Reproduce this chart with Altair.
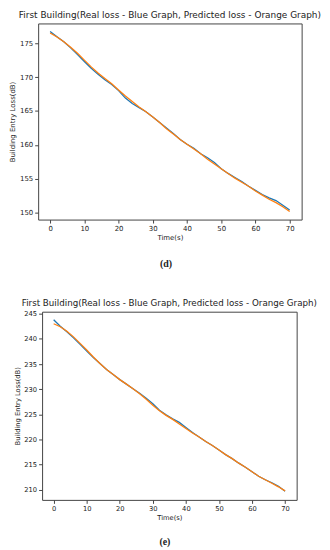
import altair as alt
import pandas as pd

time_s = list(range(0, 71, 2))

real_d = [176.7, 175.95, 175.2, 174.3, 173.3, 172.3, 171.3, 170.4, 169.6, 168.9,
          168.0, 166.9, 166.1, 165.5, 164.9, 164.1, 163.3, 162.5, 161.7, 160.8,
          160.1, 159.5, 158.7, 158.1, 157.4, 156.5, 155.8, 155.2, 154.6, 153.9,
          153.3, 152.7, 152.2, 151.8, 151.1, 150.4]
pred_d = [176.5, 175.9, 175.2, 174.4, 173.5, 172.5, 171.5, 170.6, 169.8, 169.0,
          168.1, 167.2, 166.4, 165.6, 164.9, 164.1, 163.3, 162.4, 161.6, 160.8,
          160.1, 159.4, 158.7, 157.9, 157.2, 156.5, 155.8, 155.1, 154.5, 153.9,
          153.2, 152.6, 152.0, 151.5, 150.9, 150.2]

real_e = [243.8, 242.5, 241.4, 240.2, 238.9, 237.6, 236.3, 235.1, 233.9, 232.9,
          231.9, 231.0, 230.1, 229.2, 228.2, 227.1, 225.8, 224.9, 224.1, 223.4,
          222.4, 221.4, 220.5, 219.6, 218.8, 217.9, 217.0, 216.2, 215.3, 214.5,
          213.6, 212.7, 212.0, 211.4, 210.7, 209.7]
pred_e = [243.0, 242.4, 241.5, 240.4, 239.1, 237.8, 236.4, 235.1, 233.9, 232.9,
          231.9, 231.0, 230.1, 229.1, 228.0, 226.8, 225.7, 224.8, 224.0, 223.1,
          222.2, 221.3, 220.5, 219.6, 218.8, 217.9, 217.0, 216.2, 215.3, 214.5,
          213.6, 212.7, 212.0, 211.3, 210.6, 209.8]

x_ticks = [0, 10, 20, 30, 40, 50, 60, 70]
y_ticks_d = [150, 155, 160, 165, 170, 175]
y_ticks_e = [210, 215, 220, 225, 230, 235, 240, 245]

title_text = "First Building(Real loss - Blue Graph, Predicted loss - Orange Graph)"
BLUE = "#1f77b4"
ORANGE = "#ff7f0e"


def panel(real, pred, ydom, yticks, w, h, fs, caption, cap_x, cap_y, ytp):
    df = pd.DataFrame({"t": time_s, "real": real, "pred": pred})
    x = alt.X("t:Q", scale=alt.Scale(domain=[-3.5, 73.5], nice=False, zero=False),
              axis=alt.Axis(values=x_ticks, title="Time(s)", labelFontSize=fs,
                            titleFontSize=fs, labelPadding=2, titlePadding=2))
    def y(field):
        return alt.Y(f"{field}:Q", scale=alt.Scale(domain=ydom, nice=False, zero=False),
                     axis=alt.Axis(values=yticks, title="Building Entry Loss(dB)",
                                   labelFontSize=fs, titleFontSize=fs,
                                   labelPadding=2, titlePadding=ytp))
    base = alt.Chart(df)
    blue = base.mark_line(color=BLUE, strokeWidth=1.3).encode(x=x, y=y("real"))
    orange = base.mark_line(color=ORANGE, strokeWidth=1.3).encode(x=x, y=y("pred"))
    cap = alt.Chart(pd.DataFrame({"c": [caption]})).mark_text(
        font="Liberation Serif", fontWeight="bold", fontSize=10, color="#222",
        baseline="middle", align="center"
    ).encode(text="c:N", x=alt.value(cap_x), y=alt.value(cap_y))
    return alt.layer(blue, orange, cap).properties(
        width=w, height=h,
        title=alt.TitleParams(title_text, fontSize=fs + 2, fontWeight="normal",
                              font="DejaVu Sans", color="#222", offset=3),
    )


top = panel(real_d, pred_d, [149.0, 177.9], y_ticks_d, 266, 198, 7, "(d)", 129, 243, 4)
bottom = panel(real_e, pred_e, [208.0, 245.4], y_ticks_e, 257, 190, 6.8, "(e)", 124, 233, 3.5)

chart = alt.vconcat(top, bottom, spacing=28, center=True).properties(
    padding={"left": 0, "top": 0, "right": 0, "bottom": 0}
).configure(font="DejaVu Sans").configure_view(
    stroke="#444", strokeWidth=1
).configure_axis(
    domain=False, grid=False, tickSize=3.5, tickColor="#444", labelColor="#222",
    titleColor="#222", titleFontWeight="normal", labelFont="DejaVu Sans", titleFont="DejaVu Sans"
)

chart.save("out.html", embed_options={"renderer": "svg", "actions": False})
